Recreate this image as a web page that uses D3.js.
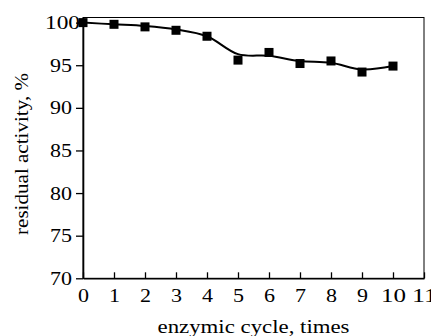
<!DOCTYPE html>
<html>
<head>
<meta charset="utf-8">
<script src="https://cdn.jsdelivr.net/npm/d3@7/dist/d3.min.js"></script>
<style>
  html, body { margin: 0; padding: 0; background: #fff; }
  svg { display: block; }
</style>
</head>
<body>
<svg id="chart" width="431" height="336"></svg>
<script>
// measured points (squares)
const cycles = [0, 1, 2, 3, 4, 5, 6, 7, 8, 9, 10];
const activity = [100, 99.8, 99.5, 99.1, 98.4, 95.6, 96.5, 95.2, 95.5, 94.2, 94.9];
// smoothed trend line drawn through the points
const trend = [100, 99.8, 99.6, 99.2, 98.4, 96.3, 96.1, 95.5, 95.3, 94.5, 94.9];

const xTicks = [0, 1, 2, 3, 4, 5, 6, 7, 8, 9, 10, 11];
const yTicks = [70, 75, 80, 85, 90, 95, 100];

const serif = '"Liberation Serif", "Times New Roman", Times, serif';

const width = 431, height = 336;
const margin = { top: 17.5, right: 7, bottom: 57.7, left: 83 };
const w = width - margin.left - margin.right;
const h = height - margin.top - margin.bottom;

const svg = d3.select('#chart');
const g = svg.append('g').attr('transform', `translate(${margin.left},${margin.top})`);

const x = d3.scaleLinear().domain([0, 11]).range([0, w]);
const y = d3.scaleLinear().domain([70, 100.6]).range([h, 0]);

// frame (top and right)
g.append('rect')
  .attr('x', 0).attr('y', 0).attr('width', w).attr('height', h)
  .attr('fill', 'none').attr('stroke', '#000').attr('stroke-width', 1);

// x axis, ticks pointing inward
const xAxis = g.append('g')
  .call(d3.axisBottom(x).tickValues(xTicks).tickSize(-6).tickPadding(10).tickSizeOuter(0));
xAxis.attr('transform', `translate(0,${h})`);
xAxis.select('.domain').attr('stroke-width', 1.6);
xAxis.selectAll('.tick line').attr('stroke-width', 1.3);
xAxis.selectAll('text')
  .style('font-family', serif)
  .style('font-size', '19px')
  .attr('dy', '0.72em')
  .attr('textLength', d => d >= 10 ? 25 : 11)
  .attr('lengthAdjust', 'spacingAndGlyphs');

// y axis, ticks pointing outward
const yAxis = g.append('g')
  .call(d3.axisLeft(y).tickValues(yTicks).tickSize(7).tickPadding(4).tickSizeOuter(0));
yAxis.select('.domain').attr('stroke-width', 1.6);
yAxis.selectAll('.tick line').attr('stroke-width', 1.3);
yAxis.selectAll('text')
  .style('font-family', serif)
  .style('font-size', '19px')
  .attr('dx', d => d === 100 ? 8 : 0)
  .attr('textLength', d => d >= 100 ? 35 : 22)
  .attr('lengthAdjust', 'spacingAndGlyphs');

// trend curve
const line = d3.line()
  .x((d, i) => x(cycles[i]))
  .y(d => y(d))
  .curve(d3.curveCatmullRom.alpha(0.5));

g.append('path')
  .datum(trend)
  .attr('d', line)
  .attr('fill', 'none')
  .attr('stroke', '#000')
  .attr('stroke-width', 2);

// square markers
const s = 9;
g.selectAll('rect.pt')
  .data(activity)
  .enter()
  .append('rect')
  .attr('class', 'pt')
  .attr('x', (d, i) => x(cycles[i]) - s / 2)
  .attr('y', d => y(d) - s / 2)
  .attr('width', s)
  .attr('height', s)
  .attr('fill', '#000');

// axis labels
svg.append('text')
  .attr('x', margin.left + w / 2)
  .attr('y', 333)
  .attr('text-anchor', 'middle')
  .style('font-family', serif)
  .style('font-size', '19px')
  .attr('textLength', 192)
  .attr('lengthAdjust', 'spacingAndGlyphs')
  .text('enzymic cycle, times');

svg.append('text')
  .attr('transform', `translate(28,${154}) rotate(-90)`)
  .attr('text-anchor', 'middle')
  .style('font-family', serif)
  .style('font-size', '19px')
  .attr('textLength', 162)
  .attr('lengthAdjust', 'spacingAndGlyphs')
  .text('residual activity, %');
</script>
</body>
</html>
